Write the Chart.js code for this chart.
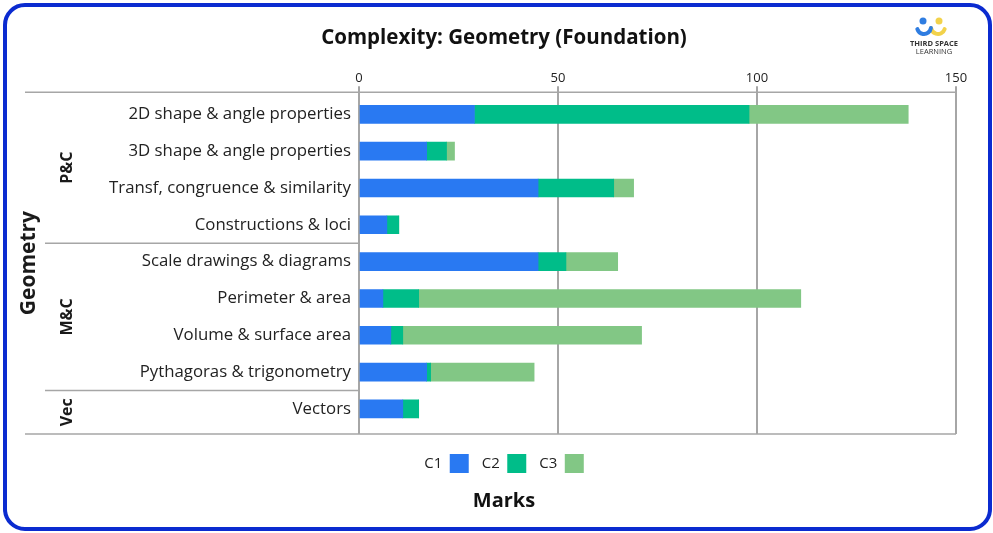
<!DOCTYPE html>
<html>
<head>
<meta charset="utf-8">
<script src="https://cdn.jsdelivr.net/npm/chart.js@4.4.0/dist/chart.umd.min.js"></script>
<style>
  html, body { margin: 0; padding: 0; background: #fff; }
  #wrap { position: relative; width: 993px; height: 533px; }
  #frame {
    position: absolute; left: 3px; top: 3px; width: 989px; height: 528px;
    box-sizing: border-box; border: 4px solid #0b2bd0; border-radius: 22px;
    pointer-events: none;
  }
</style>
</head>
<body>
<div id="wrap">
  <canvas id="myChart"></canvas>
  <div id="frame"></div>
</div>
<script>
// topics, top to bottom
const topics = [
  '2D shape & angle properties',
  '3D shape & angle properties',
  'Transf, congruence & similarity',
  'Constructions & loci',
  'Scale drawings & diagrams',
  'Perimeter & area',
  'Volume & surface area',
  'Pythagoras & trigonometry',
  'Vectors'
];
// marks per complexity level
const c1 = [29, 17, 45, 7, 45, 6, 8, 17, 11];
const c2 = [69, 5, 19, 3, 7, 9, 3, 1, 4];
const c3 = [40, 2, 5, 0, 13, 96, 60, 26, 0];
// topic groups
const groupNames = ['P&C', 'M&C', 'Vec'];
const groupSizes = [4, 4, 1];
const xTicks = [0, 50, 100, 150];

const FONT = "'Open Sans', sans-serif";
const LINE = '#a6a6a6';

// draws the left group columns, the frame lines and the logo
const sidePlugin = {
  id: 'side',
  afterDraw(chart) {
    const ctx = chart.ctx;
    const area = chart.chartArea;
    const y = chart.scales.y;
    ctx.save();
    ctx.strokeStyle = LINE;
    ctx.lineWidth = 1.5;
    // top and bottom rules
    ctx.beginPath();
    ctx.moveTo(25, area.top); ctx.lineTo(area.right, area.top);
    ctx.moveTo(25, area.bottom); ctx.lineTo(area.right, area.bottom);
    ctx.stroke();

    ctx.fillStyle = '#1a1a1a';
    ctx.textAlign = 'center';
    ctx.textBaseline = 'middle';
    let start = 0;
    groupSizes.forEach((n, g) => {
      const end = start + n - 1;
      const top = start === 0 ? area.top : (y.getPixelForValue(start - 1) + y.getPixelForValue(start)) / 2;
      const bot = end === topics.length - 1 ? area.bottom : (y.getPixelForValue(end) + y.getPixelForValue(end + 1)) / 2;
      if (end < topics.length - 1) {
        ctx.beginPath();
        ctx.moveTo(45, bot); ctx.lineTo(area.left, bot);
        ctx.stroke();
      }
      ctx.save();
      ctx.translate(67, (top + bot) / 2);
      ctx.rotate(-Math.PI / 2);
      ctx.font = "bold 16px " + FONT;
      ctx.fillText(groupNames[g], 0, 0);
      ctx.restore();
      start += n;
    });
    // outer group label
    ctx.save();
    ctx.translate(29, (area.top + area.bottom) / 2);
    ctx.rotate(-Math.PI / 2);
    ctx.font = "bold 21px " + FONT;
    ctx.fillText('Geometry', 0, 0);
    ctx.restore();

    // logo
    ctx.lineCap = 'round';
    ctx.lineWidth = 4;
    ctx.fillStyle = '#2f7de1';
    ctx.beginPath(); ctx.arc(923, 21, 3.5, 0, Math.PI * 2); ctx.fill();
    ctx.fillStyle = '#f2d24b';
    ctx.beginPath(); ctx.arc(939, 21, 3.5, 0, Math.PI * 2); ctx.fill();
    ctx.strokeStyle = '#f2d24b';
    ctx.beginPath(); ctx.arc(938, 27, 7, 0.1 * Math.PI, 0.95 * Math.PI); ctx.stroke();
    ctx.strokeStyle = '#2f7de1';
    ctx.beginPath(); ctx.arc(924, 27, 7, 0.05 * Math.PI, 0.9 * Math.PI); ctx.stroke();
    ctx.fillStyle = '#333';
    ctx.font = "bold 7.5px " + FONT;
    ctx.fillText('THIRD SPACE', 934, 44);
    ctx.font = "7.5px " + FONT;
    ctx.fillText('LEARNING', 934, 52);
    ctx.restore();
  }
};

const ctx = document.getElementById('myChart');
const myChart = new Chart(ctx, {
  type: 'bar',
  data: {
    labels: topics,
    datasets: [
      { label: 'C1', data: c1, backgroundColor: '#2979f2' },
      { label: 'C2', data: c2, backgroundColor: '#00bd89' },
      { label: 'C3', data: c3, backgroundColor: '#82c785' }
    ]
  },
  options: {
    indexAxis: 'y',
    responsive: true,
    maintainAspectRatio: false,
    animation: false,
    barThickness: 18,
    layout: { padding: { left: 52, right: 37, top: 18, bottom: 20 } },
    scales: {
      x: {
        position: 'top',
        stacked: true,
        min: 0,
        max: 150,
        afterBuildTicks: (s) => { s.ticks = xTicks.map(v => ({ value: v })); },
        grid: { color: LINE, lineWidth: 2, tickLength: 6 },
        border: { display: false },
        ticks: { color: '#222', padding: 0, font: { family: FONT, size: 13 } }
      },
      x2: {
        position: 'bottom',
        display: true,
        grid: { display: false, drawTicks: false },
        border: { display: false },
        ticks: { display: false },
        afterFit: (s) => { s.height = 7; }
      },
      y: {
        stacked: true,
        grid: { display: false },
        border: { display: false },
        ticks: { color: '#222', padding: 0, font: { family: FONT, size: 16.8 } },
        // a little extra room above the first and below the last row
        afterBuildTicks: (s) => { s._startValue -= 0.1; s._valueRange += 0.28; },
        afterFit: (s) => { s.width = 307; }
      }
    },
    plugins: {
      title: {
        display: true,
        text: 'Complexity: Geometry (Foundation)',
        color: '#111',
        font: { family: FONT, size: 20.5, weight: 'bold' },
        padding: { top: 8, bottom: 20 }
      },
      subtitle: {
        display: true,
        position: 'bottom',
        text: 'Marks',
        color: '#111',
        font: { family: FONT, size: 20, weight: 'bold' },
        padding: { top: 6, bottom: 0 }
      },
      legend: {
        position: 'bottom',
        rtl: true,
        reverse: true,
        labels: {
          color: '#222',
          boxWidth: 19,
          boxHeight: 19,
          padding: 13,
          font: { family: FONT, size: 15 }
        }
      },
      tooltip: { enabled: false }
    }
  },
  plugins: [sidePlugin]
});
</script>
</body>
</html>
